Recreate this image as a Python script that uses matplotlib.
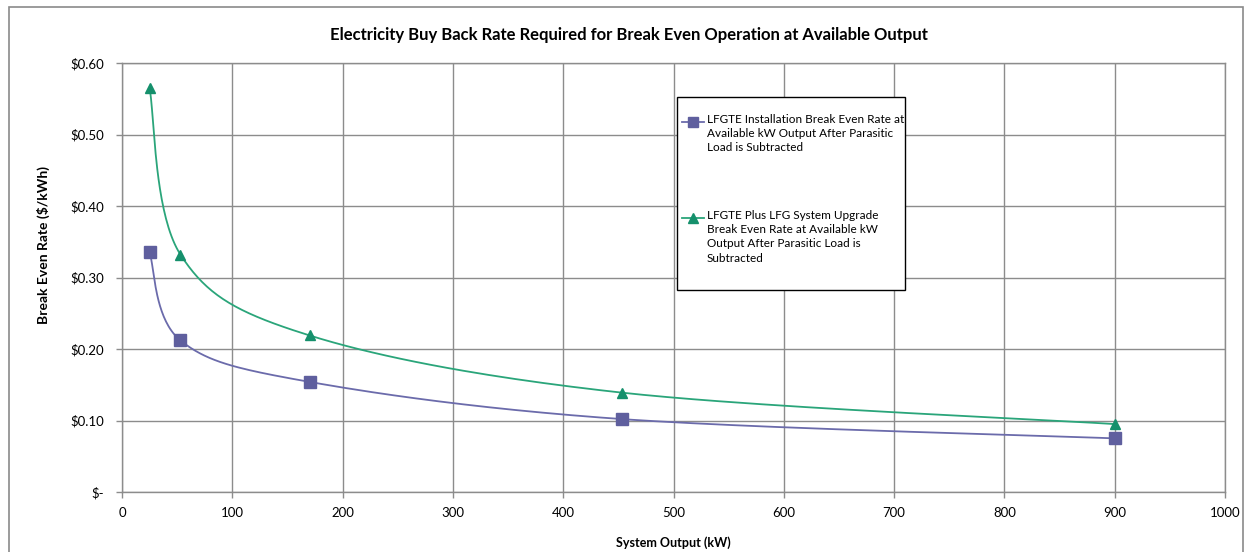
import numpy as np
import matplotlib
matplotlib.use("Agg")
import matplotlib.pyplot as plt
from matplotlib.patches import Rectangle
from matplotlib.lines import Line2D

plt.rcParams['font.family'] = ['Lato', 'DejaVu Sans']

# data
output_kw = [25, 53, 170, 453, 900]
rate_install = [0.335, 0.212, 0.154, 0.102, 0.075]
rate_upgrade = [0.565, 0.332, 0.219, 0.139, 0.095]

y_ticks = [0.0, 0.1, 0.2, 0.3, 0.4, 0.5, 0.6]
y_labels = ["$-", "$0.10", "$0.20", "$0.30", "$0.40", "$0.50", "$0.60"]
x_ticks = list(range(0, 1001, 100))

label_install = "LFGTE Installation Break Even Rate at\nAvailable kW Output After Parasitic\nLoad is Subtracted"
label_upgrade = "LFGTE Plus LFG System Upgrade\nBreak Even Rate at Available kW\nOutput After Parasitic Load is\nSubtracted"

blue = "#5f5f9e"
blue_line = "#6b6bab"
green = "#15906c"
green_line = "#2aa57a"

W, H = 1245, 552


def fx(x):
    return x / W


def fy(y):
    return 1 - y / H


def smooth(xs, ys, n=40):
    # excel style smoothed line (bezier through the points)
    pts = np.column_stack([xs, ys]).astype(float)
    pad = np.vstack([pts[0], pts, pts[-1]])
    t = np.linspace(0, 1, n)[:, None]
    segs = []
    for i in range(len(pts) - 1):
        p0 = pad[i + 1]
        p3 = pad[i + 2]
        c1 = p0 + (pad[i + 2] - pad[i]) / 6
        c2 = p3 - (pad[i + 3] - pad[i + 1]) / 6
        segs.append((1-t)**3*p0 + 3*(1-t)**2*t*c1 + 3*(1-t)*t**2*c2 + t**3*p3)
    s = np.vstack(segs)
    return s[:, 0], s[:, 1]


fig = plt.figure(figsize=(12.45, 5.52), dpi=100)
ax = fig.add_axes([fx(122), fy(492), 1103/W, 429/H])

# chart area border
fig.patches.append(Rectangle((fx(9), -0.05), 1234/W, 1.05 - 7/H, transform=fig.transFigure,
                             fill=False, edgecolor="#8a8a8a", lw=1.2))

sx, sy = smooth(output_kw, rate_install)
ax.plot(sx, sy, color=blue_line, lw=1.3, zorder=3)
ax.plot(output_kw, rate_install, ls="none", marker="s", ms=8, color=blue, zorder=4)

gx, gy = smooth(output_kw, rate_upgrade)
ax.plot(gx, gy, color=green_line, lw=1.3, zorder=3)
ax.plot(output_kw, rate_upgrade, ls="none", marker="^", ms=7.5, color=green, zorder=4)

ax.set_xlim(0, 1000)
ax.set_ylim(0, 0.6)
ax.set_xticks(x_ticks)
ax.set_yticks(y_ticks)
ax.set_yticklabels(y_labels)
ax.grid(True, color="#8c8c8c", lw=1)
ax.set_axisbelow(True)
for s in ax.spines.values():
    s.set_color("#8c8c8c")
    s.set_linewidth(1)
ax.tick_params(axis="both", colors="#8c8c8c", labelcolor="black", labelsize=9.5, length=4, width=1)
ax.tick_params(axis="y", pad=9)
ax.tick_params(axis="x", pad=7)

ax.set_xlabel("System Output (kW)", fontsize=9, fontweight="bold", labelpad=12)
ax.set_ylabel("Break Even Rate ($/kWh)", fontsize=10, fontweight="bold", va="center")
ax.yaxis.set_label_coords((43 - 122) / 1103, (492 - 245) / 429)

fig.text(0.505, fy(35), "Electricity Buy Back Rate Required for Break Even Operation at Available Output",
         ha="center", va="center", fontsize=12, fontweight="bold")

# legend box drawn by hand so the handles sit on the first text line
fig.patches.append(Rectangle((fx(677), fy(290)), 228/W, 193/H, transform=fig.transFigure,
                             facecolor="white", edgecolor="black", lw=1, zorder=5))
for yc, lab, lc, mc, mk, ms in [(122, label_install, blue_line, blue, "s", 7),
                                (218, label_upgrade, green_line, green, "^", 6.5)]:
    fig.lines.append(Line2D([fx(682), fx(704)], [fy(yc), fy(yc)], transform=fig.transFigure,
                            color=lc, lw=1.3, zorder=6))
    fig.lines.append(Line2D([fx(693)], [fy(yc)], transform=fig.transFigure, ls="none",
                            marker=mk, ms=ms, color=mc, zorder=7))
    fig.text(fx(707), fy(yc - 8), lab, ha="left", va="top", fontsize=8.5,
             linespacing=1.36, zorder=7)

fig.savefig("out.png", dpi=100)
